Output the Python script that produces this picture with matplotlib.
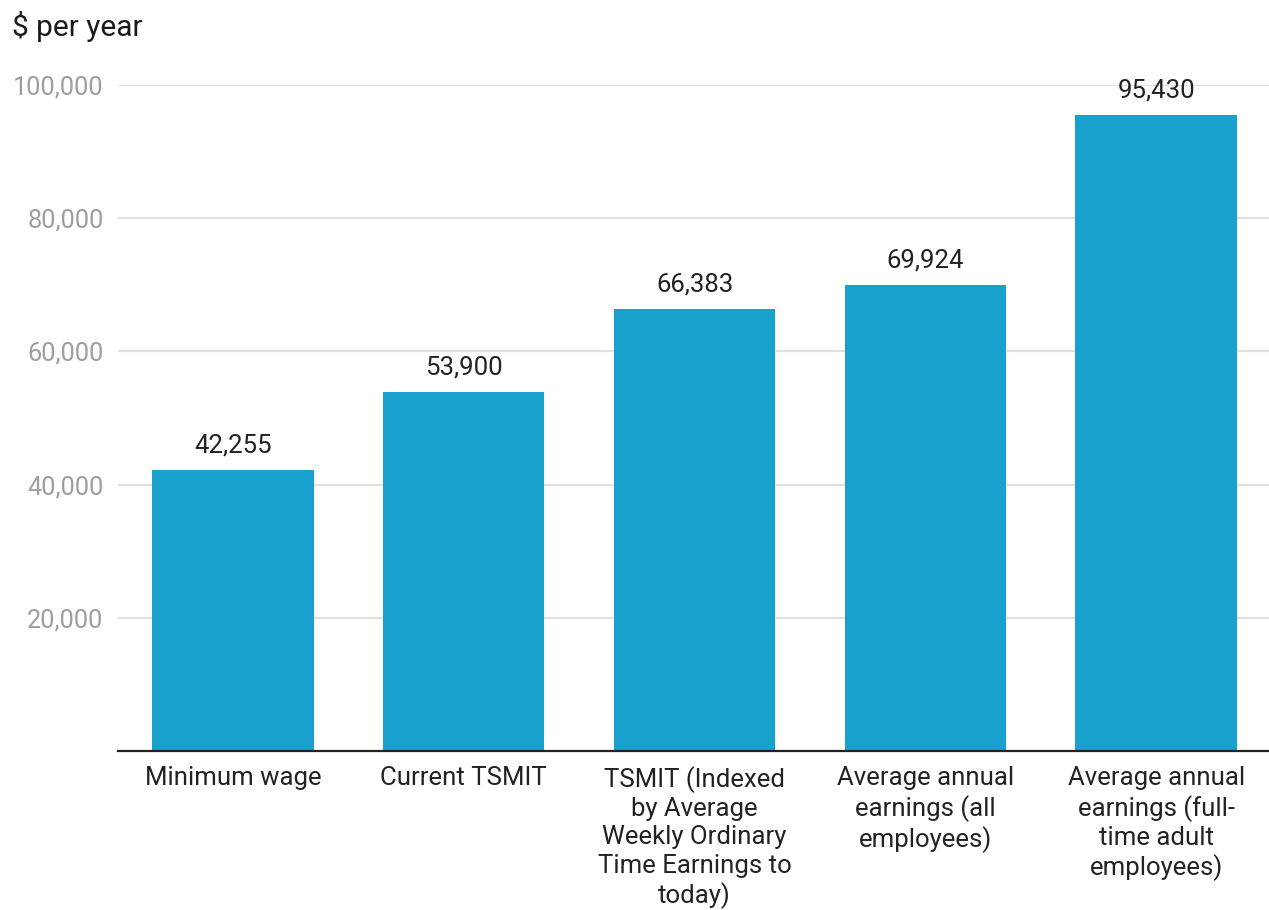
import matplotlib
matplotlib.use("Agg")
import matplotlib.pyplot as plt
from matplotlib.ticker import FuncFormatter

plt.rcParams['font.family'] = ['Roboto', 'DejaVu Sans']

categories = [
    "Minimum wage",
    "Current TSMIT",
    "TSMIT (Indexed\nby Average\nWeekly Ordinary\nTime Earnings to\ntoday)",
    "Average annual\nearnings (all\nemployees)",
    "Average annual\nearnings (full-\ntime adult\nemployees)",
]
values = [42255, 53900, 66383, 69924, 95430]
yticks = [20000, 40000, 60000, 80000, 100000]

fig = plt.figure(figsize=(12.69, 9.10), dpi=100)
ax = fig.add_axes([117.5/1269, 159/910, 1154/1269, 666/910])

x = list(range(len(categories)))
ax.bar(x, values, width=0.70, color="#19a1cd", zorder=3)
ax.set_xlim(-0.5, len(categories) - 0.5)
ax.set_ylim(0, 100000)

ax.set_yticks(yticks)
ax.yaxis.set_major_formatter(FuncFormatter(lambda v, p: f"{int(v):,}"))
ax.grid(axis="y", color="#e0e0e0", linewidth=1.5, zorder=0)
ax.tick_params(axis="y", length=0, pad=10, labelsize=18.3, labelcolor="#9e9e9e")
ax.set_xticks(x)
ax.set_xticklabels(categories, fontsize=18.5, color="#222222", linespacing=1.22, va="top")
ax.tick_params(axis="x", length=0, pad=11)

for s in ["top", "right", "left"]:
    ax.spines[s].set_visible(False)
ax.spines["bottom"].set_color("#222222")
ax.spines["bottom"].set_linewidth(1.6)
ax.spines["bottom"].set_zorder(4)

for xi, v in zip(x, values):
    ax.annotate(f"{v:,}", (xi, v), xytext=(0, 9), textcoords="offset points",
                ha="center", va="bottom", fontsize=18.5, color="#222222")

fig.text(12/1269, 1 - 27/910, "$ per year", fontsize=21.5, color="#1a1a1a", va="center", ha="left")

fig.savefig("out.png", dpi=100)
